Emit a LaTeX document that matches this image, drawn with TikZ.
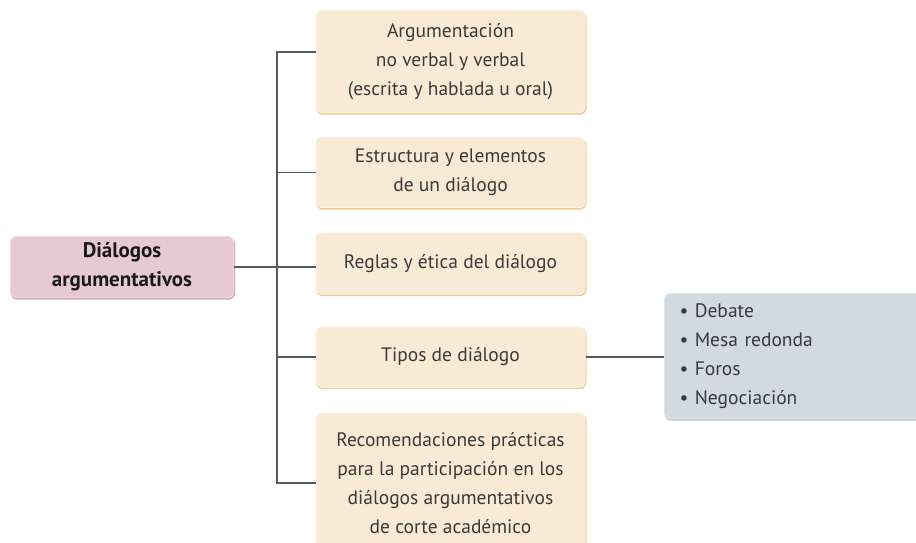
\documentclass[tikz,border=0pt]{standalone}
\usepackage{fontspec}
\setmainfont{PT Sans}
\usepackage{xcolor}
\usetikzlibrary{positioning,calc}
\definecolor{cajafondo}{RGB}{249,234,213}
\definecolor{cajaborde}{RGB}{239,201,145}
\definecolor{raizfondo}{RGB}{230,201,211}
\definecolor{raizborde}{RGB}{212,163,181}
\definecolor{listafondo}{RGB}{208,218,224}
\definecolor{listaborde}{RGB}{184,198,208}
\definecolor{rama}{RGB}{90,90,90}
\definecolor{texto}{RGB}{58,58,58}

\tikzset{
  caja/.style={rounded corners=6pt, fill=cajafondo, draw=cajafondo!70!white, line width=1pt,
    preaction={draw=cajaborde, line width=1.5pt, transform canvas={shift={(0.8pt,-1.4pt)}}},
    minimum width=269, align=center, text=texto,
    font=\fontsize{19.5}{29}\selectfont, inner sep=0pt},
  raiz/.style={rounded corners=6pt, fill=raizfondo, draw=raizfondo!70!white, line width=1pt,
    preaction={draw=raizborde, line width=1.5pt, transform canvas={shift={(0.8pt,-1.4pt)}}},
    minimum width=223, minimum height=61, align=center, text=black!90,
    font=\fontsize{21}{29}\selectfont\bfseries, inner sep=0pt},
  lista/.style={rounded corners=6pt, fill=listafondo, draw=listafondo!70!white, line width=1pt,
    preaction={draw=listaborde, line width=1.5pt, transform canvas={shift={(0.8pt,-1.4pt)}}},
    minimum width=262, minimum height=125, align=left, text=texto,
    text width=232, inner xsep=15, inner ysep=0pt,
    font=\fontsize{19.5}{29}\selectfont},
  conector/.style={draw=rama, line width=1.6pt}
}

\begin{document}
\begin{tikzpicture}[x=1pt, y=-1pt]
    \useasboundingbox (0,0) rectangle (916,543);
    % nodo central
    \node[raiz] (dialogos) at (122,267) {Diálogos\\argumentativos};
    % temas
    \node[caja, minimum height=102] (argum) at (450.5,61.5) {Argumentación\\no verbal y verbal\\(escrita y hablada u oral)};
    \node[caja, minimum height=70] (estruc) at (450.5,172.5) {Estructura y elementos\\de un diálogo};
    \node[caja, minimum height=61] (reglas) at (450.5,263.5) {Reglas y ética del diálogo};
    \node[caja, minimum height=60] (tipos) at (450.5,357) {Tipos de diálogo};
    \node[caja, minimum height=140] (recom) at (450.5,483) {Recomendaciones prácticas\\para la participación en los\\diálogos argumentativos\\de corte académico};
    % ejemplos de tipos
    \node[lista, anchor=west] (ejemplos) at (664,356) {• Debate\\• Mesa redonda\\• Foros\\• Negociación};
    % ramas
    \coordinate (eje) at (277,267);
    \draw[conector] (dialogos.east) -- (eje);
    \draw[conector] ([yshift=9.5pt]argum.west) -| (eje);
    \draw[conector] (estruc.west) -| (eje);
    \draw[conector] (reglas.west |- eje) -- (eje);
    \draw[conector] (tipos.west) -| (eje);
    \draw[conector] (recom.west) -| (eje);
    \draw[conector] (tipos.east) -- (ejemplos.west |- tipos.east);
\end{tikzpicture}
\end{document}
